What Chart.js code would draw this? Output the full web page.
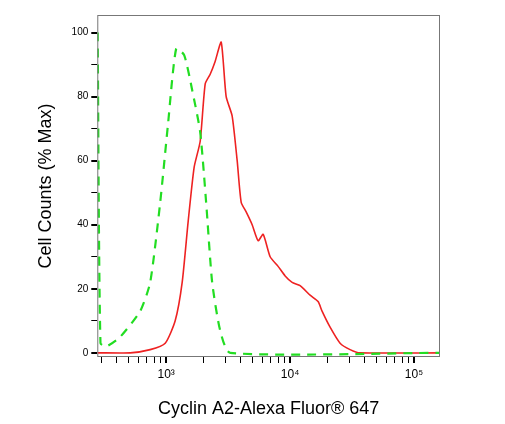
<!DOCTYPE html>
<html>
<head>
<meta charset="utf-8">
<script src="https://cdn.jsdelivr.net/npm/chart.js@4"></script>
<style>
  html, body { margin: 0; padding: 0; background: #fff; }
  #wrap { width: 505px; height: 424px; }
</style>
</head>
<body>
<div id="wrap"><canvas id="c"></canvas></div>
<script>
const controlX = [280, 295, 330, 426, 617, 743, 895, 1038, 1204, 1397, 1622, 1880, 2101, 2350, 2725, 3282, 162000];
const controlY = [100, 3, 2, 5, 13, 22, 47, 72, 95, 93, 82, 69, 47, 22, 7, 0, 0];

const cyclinX = [278, 513, 743, 982, 1182, 1346, 1504, 1682, 1880, 2065, 2265, 2483, 2780, 3048, 3405, 3740, 4030, 4420, 4940, 5520, 6060, 6900, 8000, 9120, 10380, 12040, 14500, 16820, 18110, 21020, 25310, 30480, 36700, 162000];
const cyclinY = [0, 0, 1, 3, 10, 22, 41, 58, 66, 84, 87, 91, 97, 80, 74, 60, 47, 44, 40, 35, 37, 30, 27, 24, 22, 21, 18, 16, 13, 8, 3, 1, 0, 0];

const xTicks = [];
for (const d of [100, 1000, 10000]) for (let m = 1; m <= 9; m++) if (m * d >= 300) xTicks.push(m * d);
xTicks.push(100000);

const toPoints = (xs, ys) => xs.map((x, i) => ({ x: x, y: ys[i] }));

const boxPlugin = {
  id: "box",
  afterDraw(chart) {
    const a = chart.chartArea, ctx = chart.ctx;
    ctx.save();
    ctx.strokeStyle = "#777";
    ctx.lineWidth = 1;
    ctx.strokeRect(a.left + 0.5, a.top + 0.5, a.right - a.left - 1, a.bottom - a.top - 1);
    ctx.restore();
  },
};

new Chart(document.getElementById("c"), {
  type: "line",
  data: {
    datasets: [
      {
        label: "Control",
        data: toPoints(controlX, controlY),
        borderColor: "#22dd22",
        borderWidth: 2.2,
        borderDash: [9, 7],
        pointRadius: 0,
        tension: 0.2,
      },
      {
        label: "Cyclin A2",
        data: toPoints(cyclinX, cyclinY),
        borderColor: "#ee2222",
        borderWidth: 1.6,
        pointRadius: 0,
        tension: 0.2,
      },
    ],
  },
  options: {
    responsive: true,
    maintainAspectRatio: false,
    animation: false,
    layout: { padding: { top: 15, right: 65, bottom: 4, left: 35 } },
    plugins: { legend: { display: false }, tooltip: { enabled: false } },
    scales: {
      x: {
        type: "logarithmic",
        min: 278,
        max: 162000,
        afterBuildTicks: (s) => { s.ticks = xTicks.map((v) => ({ value: v })); },
        ticks: {
          autoSkip: false,
          maxRotation: 0,
          color: "#000",
          font: { family: "Liberation Sans", size: 12 },
          padding: 4,
          callback: (v) => ({ 1000: "10³", 10000: "10⁴", 100000: "10⁵" }[v] || ""),
        },
        grid: {
          drawOnChartArea: false,
          color: "#000",
          tickLength: 6,
          lineWidth: (c) => ([1000, 10000, 100000].includes(c.tick && c.tick.value) ? 2 : 1),
        },
        border: { display: false },
        title: {
          display: true,
          text: "Cyclin A2-Alexa Fluor® 647",
          color: "#000",
          font: { family: "Liberation Sans", size: 18 },
          padding: { top: 13, bottom: 0 },
        },
      },
      y: {
        min: -1.3,
        max: 105.5,
        afterBuildTicks: (s) => {
          const t = [];
          for (let v = 0; v <= 100; v += 10) t.push({ value: v });
          s.ticks = t;
        },
        ticks: {
          color: "#000",
          font: { family: "Liberation Sans", size: 10 },
          padding: 3,
          callback: (v) => (v % 20 === 0 ? String(v) : ""),
        },
        grid: {
          drawOnChartArea: false,
          color: "#000",
          tickLength: 6,
          lineWidth: (c) => (c.tick && c.tick.value % 20 === 0 ? 2 : 1),
        },
        border: { display: false },
        title: {
          display: true,
          text: "Cell Counts (% Max)",
          color: "#000",
          font: { family: "Liberation Sans", size: 18 },
          padding: { top: 0, bottom: 12 },
        },
      },
    },
  },
  plugins: [boxPlugin],
});
</script>
</body>
</html>
